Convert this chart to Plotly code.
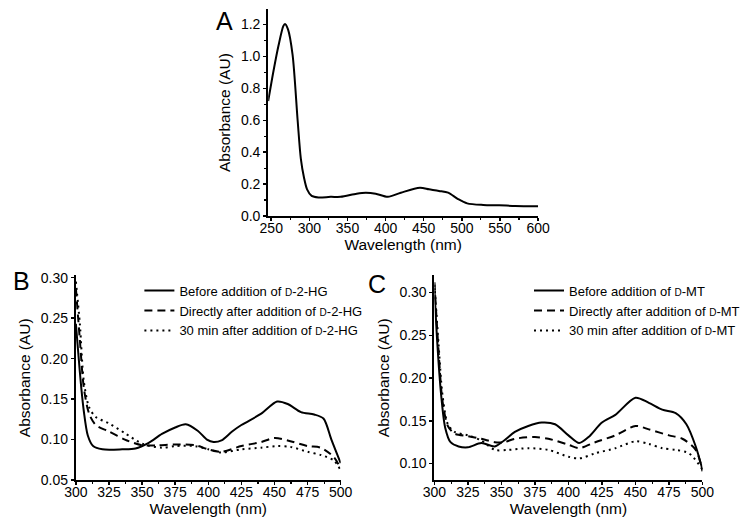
import plotly.graph_objects as go

# ---------------- Data ----------------
# Panel A: full spectrum
wl_a = [246, 253, 259.6, 265.8, 268, 272, 278, 284.6, 288.8, 293, 297, 303, 312, 328, 341,
        362, 374, 387, 403, 420, 445, 457, 470, 482, 495, 507, 528, 549, 570, 600]
abs_a = [0.72, 0.91, 1.07, 1.19, 1.204, 1.17, 1.01, 0.60, 0.36, 0.24, 0.167, 0.126, 0.116, 0.12, 0.12,
         0.14, 0.146, 0.14, 0.12, 0.146, 0.177, 0.167, 0.157, 0.146, 0.106, 0.079, 0.069, 0.067, 0.063, 0.061]

# Panel B: D-2-HG
wl_b_before = [300, 302, 304, 306, 309, 313, 320, 335, 345, 355, 365, 375, 383, 392, 399, 404, 410,
               418, 425, 440, 452, 460, 470, 480, 487, 493, 500]
abs_b_before = [0.243, 0.203, 0.165, 0.135, 0.105, 0.092, 0.088, 0.088, 0.089, 0.096, 0.107, 0.115, 0.119,
                0.111, 0.100, 0.097, 0.099, 0.110, 0.118, 0.132, 0.147, 0.144, 0.134, 0.131, 0.126, 0.100, 0.071]
wl_b_direct = [300, 303, 306, 310, 315, 325, 337, 350, 362, 375, 390, 400, 410, 425, 440, 450, 460, 475,
               485, 495, 500]
abs_b_direct = [0.287, 0.223, 0.164, 0.132, 0.118, 0.110, 0.100, 0.093, 0.093, 0.094, 0.093, 0.088, 0.085,
                0.092, 0.097, 0.102, 0.099, 0.092, 0.090, 0.078, 0.064]
wl_b_30min = [300, 303, 306, 310, 315, 325, 337, 350, 365, 375, 390, 400, 410, 425, 440, 452, 462, 475,
              485, 495, 500]
abs_b_30min = [0.295, 0.243, 0.172, 0.140, 0.128, 0.120, 0.108, 0.095, 0.090, 0.092, 0.092, 0.088, 0.084,
               0.088, 0.090, 0.092, 0.091, 0.085, 0.081, 0.074, 0.062]

# Panel C: D-MT
wl_c_before = [300, 302, 305, 308, 312, 318, 325, 335, 345, 352, 360, 370, 380, 390, 400, 408, 415, 425,
               435, 450, 460, 470, 480, 488, 495, 500]
abs_c_before = [0.305, 0.244, 0.180, 0.142, 0.125, 0.120, 0.119, 0.124, 0.120, 0.127, 0.137, 0.144, 0.148,
                0.146, 0.133, 0.124, 0.131, 0.148, 0.157, 0.177, 0.171, 0.163, 0.159, 0.146, 0.120, 0.093]
wl_c_direct = [300, 303, 306, 310, 315, 325, 335, 345, 352, 360, 375, 385, 400, 408, 420, 435, 450, 460,
               475, 485, 495, 500]
abs_c_direct = [0.312, 0.233, 0.173, 0.144, 0.135, 0.132, 0.129, 0.125, 0.125, 0.129, 0.131, 0.129, 0.122,
                0.118, 0.125, 0.133, 0.144, 0.140, 0.133, 0.129, 0.116, 0.091]
wl_c_30min = [300, 303, 306, 310, 315, 325, 335, 345, 355, 370, 385, 400, 408, 420, 435, 450, 460, 470,
              480, 490, 500]
abs_c_30min = [0.309, 0.241, 0.180, 0.146, 0.137, 0.133, 0.127, 0.116, 0.116, 0.118, 0.116, 0.108, 0.106,
               0.112, 0.118, 0.126, 0.123, 0.118, 0.116, 0.112, 0.093]

SC = "<span style='font-size:10px'>D</span>"
names_b = [f"Before addition of {SC}-2-HG",
           f"Directly after addition of {SC}-2-HG",
           f"30 min after addition of {SC}-2-HG"]
names_c = [f"Before addition of {SC}-MT",
           f"Directly after addition of {SC}-MT",
           f"30 min after addition of {SC}-MT"]

FONT = "Liberation Sans, Arial, Helvetica, sans-serif"
W, H = 745, 528

fig = go.Figure()

line_kw = dict(color="black", width=2, shape="spline", smoothing=0.8)
DASH = "8px,5px"
DOT = "2px,4px"

fig.add_trace(go.Scatter(x=wl_a, y=abs_a, mode="lines", line=line_kw, xaxis="x", yaxis="y",
                         showlegend=False))

for xs, ys, nm, dash in [(wl_b_before, abs_b_before, names_b[0], "solid"),
                         (wl_b_direct, abs_b_direct, names_b[1], DASH),
                         (wl_b_30min, abs_b_30min, names_b[2], DOT)]:
    fig.add_trace(go.Scatter(x=xs, y=ys, mode="lines", name=nm, line=dict(line_kw, dash=dash),
                             xaxis="x2", yaxis="y2", legend="legend"))

for xs, ys, nm, dash in [(wl_c_before, abs_c_before, names_c[0], "solid"),
                         (wl_c_direct, abs_c_direct, names_c[1], DASH),
                         (wl_c_30min, abs_c_30min, names_c[2], DOT)]:
    fig.add_trace(go.Scatter(x=xs, y=ys, mode="lines", name=nm, line=dict(line_kw, dash=dash),
                             xaxis="x3", yaxis="y3", legend="legend2"))


def px_x(p):
    return p / W


def px_y(p):
    return 1 - p / H


axis_common = dict(showline=True, linecolor="black", linewidth=2, ticks="outside", ticklen=3,
                   tickwidth=1.5, tickcolor="black", showgrid=False, zeroline=False,
                   tickfont=dict(family=FONT, size=14, color="black"),
                   title_font=dict(family=FONT, size=15.5, color="black"), fixedrange=True)
xaxis_common = dict(axis_common, ticklabelstandoff=-5)
minor_x = dict(ticks="outside", ticklen=2, dtick=12.5, tickcolor="black", tickwidth=1.2)

fig.update_layout(
    width=W, height=H, margin=dict(l=0, r=0, t=0, b=0),
    paper_bgcolor="white", plot_bgcolor="white",
    font=dict(family=FONT, color="black"),
    hovermode=False,
    xaxis=dict(xaxis_common, domain=[px_x(271.5), px_x(557.5)], range=[246, 600], dtick=50, tick0=250,
               minor=dict(ticks="outside", ticklen=2, dtick=25, tickcolor="black", tickwidth=1.2),
               title=dict(text="Wavelength (nm)", standoff=0), anchor="y"),
    yaxis=dict(axis_common, domain=[px_y(215.7), px_y(3.3)], range=[0, 1.296], dtick=0.2,
               tickformat=".1f", minor=dict(ticks="outside", ticklen=2, dtick=0.1, tickcolor="black",
                                            tickwidth=1.2),
               title=dict(text="Absorbance (AU)", standoff=6), anchor="x"),
    xaxis2=dict(xaxis_common, domain=[px_x(67.7), px_x(348.3)], range=[300, 500], dtick=25, minor=minor_x,
                title=dict(text="Wavelength (nm)", standoff=0), anchor="y2"),
    yaxis2=dict(axis_common, domain=[px_y(487), px_y(276.7)], range=[0.05, 0.3028], dtick=0.05,
                tickformat=".2f", title=dict(text="Absorbance (AU)", standoff=6), anchor="x2"),
    xaxis3=dict(xaxis_common, domain=[px_x(447.7), px_x(731.7)], range=[300, 500], dtick=25, minor=minor_x,
                title=dict(text="Wavelength (nm)", standoff=0), anchor="y3"),
    yaxis3=dict(axis_common, domain=[px_y(487), px_y(276.7)], range=[0.0807, 0.32], dtick=0.05,
                tick0=0.1, tickformat=".2f", title=dict(text="Absorbance (AU)", standoff=6), anchor="x3"),
    legend=dict(x=px_x(135), y=px_y(277), xanchor="left", yanchor="top", bgcolor="rgba(0,0,0,0)",
                font=dict(family=FONT, size=13, color="black"), tracegroupgap=0),
    legend2=dict(x=px_x(548), y=px_y(277), xanchor="left", yanchor="top", bgcolor="rgba(0,0,0,0)",
                 font=dict(family=FONT, size=13, color="black"), tracegroupgap=0),
    annotations=[
        dict(text="A", x=px_x(225), y=px_y(15), xref="paper", yref="paper", showarrow=False,
             xanchor="center", yanchor="middle", font=dict(family=FONT, size=25, color="black")),
        dict(text="B", x=px_x(10), y=px_y(283), xref="paper", yref="paper", showarrow=False,
             xanchor="center", yanchor="middle", font=dict(family=FONT, size=25, color="black")),
        dict(text="C", x=px_x(387), y=px_y(286), xref="paper", yref="paper", showarrow=False,
             xanchor="center", yanchor="middle", font=dict(family=FONT, size=25, color="black")),
    ],
)

fig.write_html("out.html", config={"displayModeBar": False, "staticPlot": True},
               post_script="document.body.style.margin='0';document.body.style.overflow='hidden';")
